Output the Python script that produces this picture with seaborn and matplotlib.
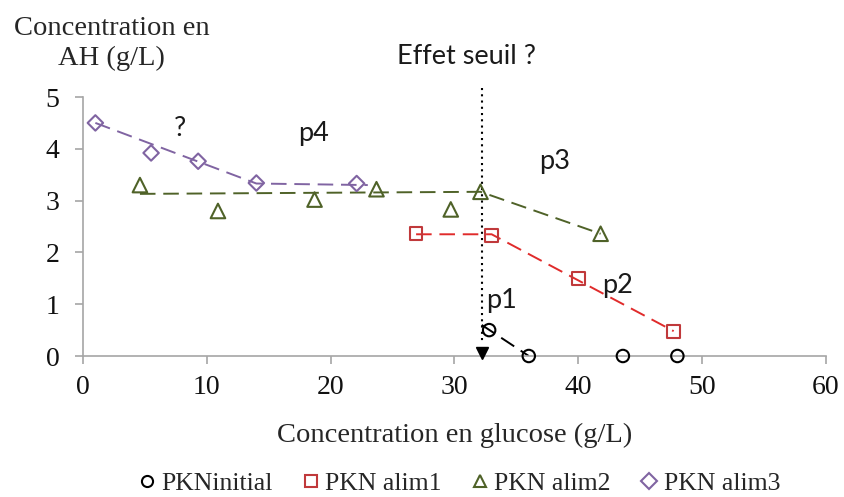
import numpy as np
import pandas as pd
import matplotlib
matplotlib.use("Agg")
import matplotlib.pyplot as plt
import seaborn as sns
from matplotlib.lines import Line2D

sns.set_style("white")
plt.rcParams['font.family'] = ['Liberation Serif', 'DejaVu Sans']

# Data points
init_x = [32.8, 36.0, 43.6, 48.0]
init_y = [0.5, 0.0, 0.0, 0.0]
alim1_x = [26.9, 33.0, 40.0, 47.7]
alim1_y = [2.37, 2.33, 1.49, 0.48]
alim2_x = [4.6, 10.9, 18.7, 23.7, 29.7, 32.1, 41.8]
alim2_y = [3.30, 2.80, 3.02, 3.22, 2.83, 3.17, 2.36]
alim3_x = [1.0, 5.5, 9.3, 14.0, 22.1]
alim3_y = [4.50, 3.92, 3.76, 3.34, 3.33]

# Trend lines (dashed)
tr_init_x = [32.2, 36.0]
tr_init_y = [0.6, 0.0]
tr_alim1_x = [26.9, 33.0, 47.7]
tr_alim1_y = [2.35, 2.35, 0.48]
tr_alim2_x = [4.6, 32.1, 41.8]
tr_alim2_y = [3.13, 3.17, 2.36]
tr_alim3_x = [1.0, 14.0, 23.0]
tr_alim3_y = [4.50, 3.33, 3.30]

names = ["PKNinitial", "PKN alim1", "PKN alim2", "PKN alim3"]
edge_colors = ["#000000", "#C0393B", "#4F6228", "#8064A2"]
line_colors = ["#000000", "#E02B2B", "#4F6228", "#8064A2"]
markers = ["o", "s", "^", "D"]
msizes = [80, 85, 110, 62]

fig = plt.figure(figsize=(8.45, 4.97), dpi=100)
ax = fig.add_axes([0.0982, 0.2837, 0.8793, 0.5211])

trends = [(tr_init_x, tr_init_y), (tr_alim1_x, tr_alim1_y),
          (tr_alim2_x, tr_alim2_y), (tr_alim3_x, tr_alim3_y)]
for (tx, ty), c in zip(trends, line_colors):
    sns.lineplot(x=tx, y=ty, ax=ax, color=c, linestyle=(0, (8, 4)), lw=1.4,
                 sort=False, estimator=None, legend=False)

pts = [(init_x, init_y), (alim1_x, alim1_y), (alim2_x, alim2_y), (alim3_x, alim3_y)]
for (px, py), n, ec, m, s in zip(pts, names, edge_colors, markers, msizes):
    sns.scatterplot(x=px, y=py, ax=ax, marker=m, s=s, facecolor="none",
                    edgecolor=ec, linewidth=1.5, zorder=5, legend=False, clip_on=False)

# Threshold line and arrow
ax.plot([32.2, 32.2], [5.17, 0.25], color="black", linestyle=(0, (1, 2)), lw=1.5,
        clip_on=False)
ax.plot([32.2], [0.06], marker="v", color="black", markersize=9, clip_on=False, zorder=6)

ax.set_xlim(0, 60)
ax.set_ylim(0, 5)
ax.set_xticks(range(0, 61, 10))
ax.set_yticks(range(0, 6))
for sp in ["top", "right"]:
    ax.spines[sp].set_visible(False)
for sp in ["left", "bottom"]:
    ax.spines[sp].set_color("#A6A6A6")
    ax.spines[sp].set_linewidth(1.2)
ax.tick_params(axis="both", direction="out", length=6, width=1.2, color="#A6A6A6",
               labelsize=20, labelcolor="#111111", left=True, bottom=True)
ax.tick_params(axis="x", pad=8)
ax.tick_params(axis="y", pad=11)

ax.set_xlabel("Concentration en glucose (g/L)", fontsize=20.5, labelpad=16)
fig.text(0.132, 0.913, "Concentration en\nAH (g/L)", fontsize=20.5, ha="center",
         va="center", linespacing=1.25)

ann = dict(fontsize=19.5, family=["Lato", "DejaVu Sans"], color="#1a1a1a")
fig.text(467 / 845, 1 - 57 / 497, "Effet seuil ?", ha="center", va="center", **ann)
ax.text(7.8, 4.4, "?", ha="center", va="center", **ann)
ax.text(18.6, 4.3, "p4", ha="center", va="center", **ann)
ax.text(38.1, 3.75, "p3", ha="center", va="center", **ann)
ax.text(43.2, 1.37, "p2", ha="center", va="center", **ann)
ax.text(33.8, 1.08, "p1", ha="center", va="center", **ann)

handles = [Line2D([], [], marker=m, linestyle="none", markerfacecolor="none",
                  markeredgecolor=ec, markeredgewidth=1.5, markersize=8)
           for m, ec in zip(markers, edge_colors)]
fig.legend(handles, names, loc="center", bbox_to_anchor=(0.541, 0.028), ncol=4,
           frameon=False, fontsize=18.5, handletextpad=0.05, columnspacing=1.0,
           handlelength=1.0)

fig.savefig("out.png", dpi=100)
